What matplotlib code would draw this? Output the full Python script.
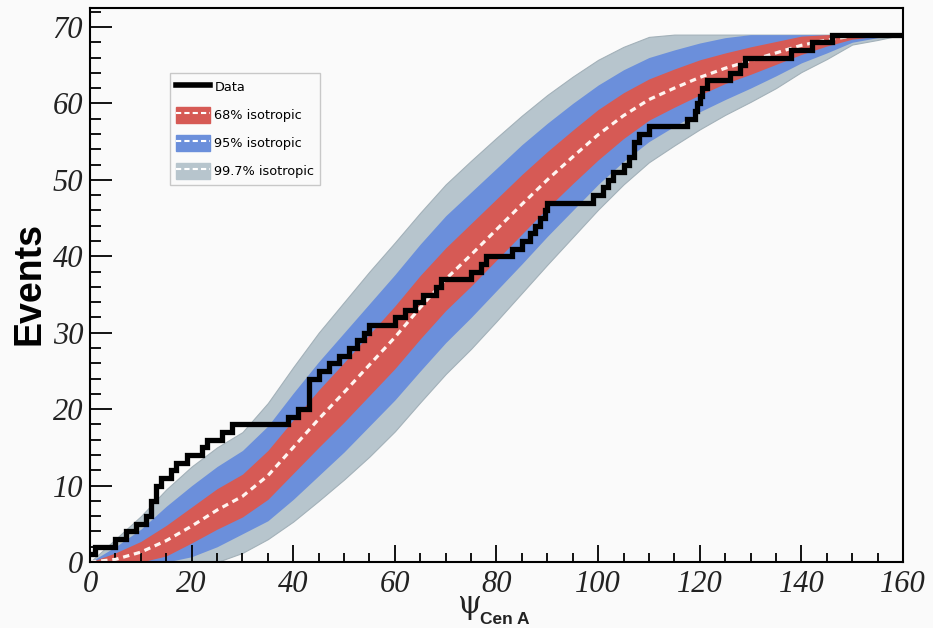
import numpy as np
import matplotlib
matplotlib.use("Agg")
import matplotlib.pyplot as plt
from matplotlib.lines import Line2D
from matplotlib.patches import Patch
from matplotlib.ticker import MultipleLocator

# angles (deg) where the isotropic curves were read
psi_grid = [0, 5, 10, 15, 20, 25, 30, 35, 40, 45, 50, 55, 60, 65, 70, 75, 80,
            85, 90, 95, 100, 105, 110, 115, 120, 125, 130, 135, 140, 145, 150, 155, 160]

# expected number of events for isotropy (white dashed curve)
iso_mean = [0, 0.35, 1.3, 2.8, 4.7, 6.8, 8.6, 11.3, 15.0, 18.7, 22.2, 25.8, 29.4,
            33.3, 37.0, 40.2, 43.5, 46.8, 50.0, 53.0, 55.9, 58.4, 60.5, 62.0, 63.4,
            64.6, 65.6, 66.6, 67.6, 68.3, 68.8, 69.0, 69.0]

# 68% band
lo68 = [0, 0, 0, 0.8, 2.5, 4.3, 5.9, 8.2, 11.6, 15.0, 18.3, 21.8, 25.3, 29.2, 32.9,
        36.1, 39.5, 42.9, 46.3, 49.5, 52.6, 55.4, 57.8, 59.5, 61.1, 62.6, 63.8, 65.1,
        66.4, 67.5, 68.4, 68.8, 69.0]
hi68 = [0, 1.2, 2.7, 4.8, 7.2, 9.6, 11.5, 14.6, 18.6, 22.5, 26.1, 29.8, 33.5, 37.5,
        41.1, 44.3, 47.5, 50.7, 53.7, 56.5, 59.2, 61.4, 63.2, 64.5, 65.7, 66.6, 67.4,
        68.1, 68.8, 69.0, 69.0, 69.0, 69.0]
# 95% band
lo95 = [0, 0, 0, 0, 0.7, 2.0, 3.7, 5.4, 8.2, 11.3, 14.4, 17.8, 21.2, 25.0, 28.7, 32.0,
        35.5, 39.0, 42.6, 46.0, 49.4, 52.4, 55.0, 57.0, 58.9, 60.5, 62.0, 63.6, 65.3,
        66.6, 68.0, 68.6, 69.0]
hi95 = [0, 2.0, 4.3, 7.3, 10.0, 12.5, 14.6, 17.8, 22.1, 26.2, 30.0, 33.8, 37.6, 41.6,
        45.3, 48.4, 51.5, 54.6, 57.4, 60.0, 62.4, 64.4, 66.0, 67.0, 67.9, 68.6, 69.0,
        69.0, 69.0, 69.0, 69.0, 69.0, 69.0]
# 99.7% band
lo997 = [0, 0, 0, 0, 0, 0, 1.2, 3.0, 5.3, 8.0, 10.8, 13.8, 17.1, 20.9, 24.6, 27.9,
         31.5, 35.2, 38.9, 42.5, 46.1, 49.4, 52.3, 54.5, 56.6, 58.5, 60.2, 62.0, 64.1,
         65.8, 67.7, 68.3, 69.0]
hi997 = [0, 3.0, 6.0, 9.5, 12.5, 15.0, 17.0, 20.8, 25.5, 30.0, 34.0, 38.0, 41.8, 45.7,
         49.4, 52.5, 55.5, 58.4, 61.1, 63.5, 65.7, 67.4, 68.7, 69.0, 69.0, 69.0, 69.0,
         69.0, 69.0, 69.0, 69.0, 69.0, 69.0]

# measured events: angle where the cumulative count changes, and the new count
data_psi = [0, 1, 5, 7, 9, 11, 12, 13, 14, 16, 17, 19, 22, 23, 26, 28, 39, 41, 43,
            45, 47, 49, 51, 52.5, 54, 55, 60, 62, 64, 65.5, 68, 69, 75, 77, 78, 83,
            85, 86.5, 87.5, 88.5, 89.5, 90, 99, 101, 102, 103, 105, 106, 107, 108,
            110, 117.5, 119, 119.5, 120, 120.5, 121.5, 126, 128, 129, 138, 142, 146]
data_n = [1, 2, 3, 4, 5, 6, 8, 10, 11, 12, 13, 14, 15, 16, 17, 18, 19, 20, 24,
          25, 26, 27, 28, 29, 30, 31, 32, 33, 34, 35, 36, 37, 38, 39, 40, 41,
          42, 43, 44, 45, 46, 47, 48, 49, 50, 51, 52, 53, 55, 56,
          57, 58, 59, 60, 61, 62, 63, 64, 65, 66, 67, 68, 69]

c_red = "#d65a55"
c_blue = "#6b8fdb"
c_gray = "#b7c5cd"
bg = "#fafafa"

fig = plt.figure(figsize=(9.33, 6.28), dpi=100, facecolor=bg)
ax = fig.add_axes([0.0965, 0.105, 0.8713, 0.8825], facecolor=bg)

ax.fill_between(psi_grid, lo997, hi997, color=c_gray, edgecolor="#a3b1b9", lw=0.8)
ax.fill_between(psi_grid, lo95, hi95, color=c_blue, lw=0)
ax.fill_between(psi_grid, lo68, hi68, color=c_red, lw=0)
ax.plot(psi_grid, iso_mean, color="#fff4f0", lw=2.3, dashes=(2.0, 1.5))

ax.step(data_psi + [160], data_n + [data_n[-1]], where="post", color="black",
        lw=3.8, solid_joinstyle="miter")

ax.set_xlim(0, 160)
ax.set_ylim(0, 72.5)
ax.xaxis.set_major_locator(MultipleLocator(20))
ax.xaxis.set_minor_locator(MultipleLocator(5))
ax.yaxis.set_major_locator(MultipleLocator(10))
ax.yaxis.set_minor_locator(MultipleLocator(2))
ax.tick_params(axis="x", which="major", direction="in", length=12.5, width=1.3,
               top=False, pad=6)
ax.tick_params(axis="x", which="minor", direction="in", length=6.5, width=1.3, top=False)
ax.tick_params(axis="y", which="major", direction="in", length=16, width=1.3,
               right=False, pad=5)
ax.tick_params(axis="y", which="minor", direction="in", length=8, width=1.3, right=False)
for s in ax.spines.values():
    s.set_linewidth(1.5)

for lab in ax.get_xticklabels() + ax.get_yticklabels():
    lab.set_fontfamily("Liberation Serif")
    lab.set_fontstyle("italic")
    lab.set_fontsize(22)
    lab.set_color("#222222")

fig.text(30 / 933, 1 - 283 / 628, "Events", rotation=90, ha="center", va="center",
         fontsize=27, fontweight="bold", family="Liberation Sans")
fig.text(469 / 933, 1 - 605 / 628, "ψ", ha="center", va="center", fontsize=22,
         family="DejaVu Serif", color="#222222")
fig.text(505 / 933, 1 - 619 / 628, "Cen A", ha="center", va="center", fontsize=12.5,
         fontweight="bold", family="Liberation Sans", color="#222222")

dash = dict(color="white", lw=1.5, dashes=(2.5, 1.5))
handles = [
    Line2D([], [], color="black", lw=4),
    (Patch(color=c_red), Line2D([], [], **dash)),
    (Patch(color=c_blue), Line2D([], [], **dash)),
    (Patch(color=c_gray), Line2D([], [], **dash)),
]
labels = ["Data", "68% isotropic", "95% isotropic", "99.7% isotropic"]
leg = ax.legend(handles, labels, loc="upper left", bbox_to_anchor=(0.098, 0.882),
                fontsize=9.3, frameon=True, fancybox=False, edgecolor="#c8c8c8",
                facecolor=bg, framealpha=1, borderpad=0.45, labelspacing=0.95,
                handlelength=2.7, handleheight=1.5, handletextpad=0.3,
                borderaxespad=0)
leg.get_frame().set_linewidth(1.0)

fig.savefig("out.png", dpi=100, facecolor=bg)
